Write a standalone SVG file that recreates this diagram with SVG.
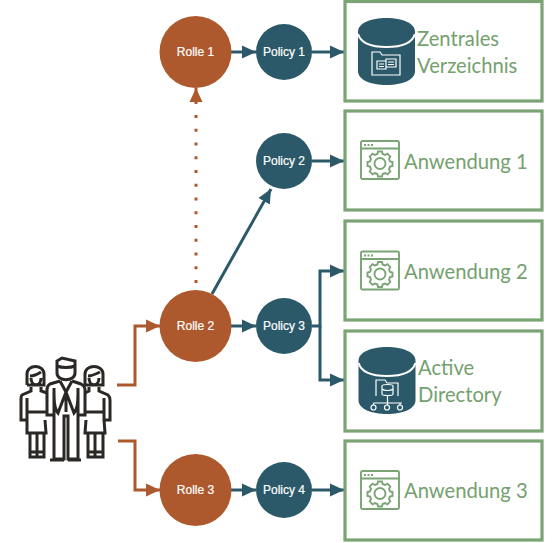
<svg xmlns="http://www.w3.org/2000/svg" width="556" height="543" viewBox="0 0 556 543">
<style>
.role{fill:#AE592D}.pol{fill:#2B5969}
.cl{font:12px "Liberation Sans",Arial,sans-serif;fill:#fff;text-anchor:middle;stroke:#fff;stroke-width:.2}
.box{fill:#fff;stroke:#7BA475;stroke-width:3.2}
.bt{font:20.2px Lato,"Open Sans",sans-serif;fill:#74A16E}
.c{fill:none;stroke:#2B5969;stroke-width:3}
.o{fill:none;stroke:#AE592D;stroke-width:3}
.ic{fill:none;stroke:#7BA475;stroke-width:1.9}
.w{fill:none;stroke:#fff;stroke-width:1.2}
.p{fill:none;stroke:#2b2724;stroke-width:3}
</style>
<defs>
<marker id="at" markerUnits="userSpaceOnUse" markerWidth="15" markerHeight="15" refX="14" refY="7.500" orient="auto"><path d="M0,1L14,7.500L0,14z" fill="#2B5969"/></marker>
<marker id="ao" markerUnits="userSpaceOnUse" markerWidth="15" markerHeight="15" refX="14" refY="7.500" orient="auto"><path d="M0,1L14,7.500L0,14z" fill="#AE592D"/></marker>
<g id="app"><rect x="1" y="1" width="38" height="38" rx="1.500" class="ic"/><path d="M1,8.500H39" class="ic"/><path d="M4,5H6M7.500,5H9.500M11,5H13" class="ic"/><circle cx="20" cy="23.500" r="5.500" class="ic"/><path d="M18,11.500h4l.6,2.500 2.500,1 2.300-1.300 2.900,2.900-1.300,2.300 1,2.500 2.500.6v4l-2.500.6-1,2.500 1.300,2.300-2.900,2.900-2.300-1.300-2.500,1-.6,2.500h-4l-.6-2.500-2.500-1-2.300,1.300-2.900-2.900 1.300-2.300-1-2.500-2.500-.6v-4l2.500-.6 1-2.500-1.300-2.300 2.900-2.900 2.300,1.300 2.500-1z" class="ic"/></g>
<g id="cyl"><path d="M0,14C0,5 13,0 28.500,0S57,5 57,14V53C57,62 44,67 28.500,67S0,62 0,53z" fill="#2B5969"/><path d="M0,16C3,26 15,29 28.500,29S54,26 57,16" fill="none" stroke="#fff" stroke-width="2.200"/></g>
</defs>
<rect width="556" height="543" fill="#fff"/>
<g id="connectors">
<path class="o" d="M196,283V110" stroke-width="3" stroke-dasharray="3 10.750"/>
<path class="o" d="M196,104V88" marker-end="url(#ao)"/>
<path class="c" d="M231,52H256" marker-end="url(#at)"/>
<path class="c" d="M312,52H344" marker-end="url(#at)"/>
<path class="c" d="M312,161H344" marker-end="url(#at)"/>
<path class="c" d="M212,294L271,189" marker-end="url(#at)"/>
<path class="c" d="M231,326H256" marker-end="url(#at)"/>
<path class="c" d="M312,326H320V271H344" marker-end="url(#at)"/>
<path class="c" d="M320,326V380H344" marker-end="url(#at)"/>
<path class="c" d="M312,490H344" marker-end="url(#at)"/>
<path class="c" d="M231,490H256" marker-end="url(#at)"/>
<path class="o" d="M117,385H135V326H160" marker-end="url(#ao)"/>
<path class="o" d="M118,441H135V490H160" marker-end="url(#ao)"/>
</g>
<g id="users">
<path class="p" d="M27,385V374C27,364 44,364 44,374V385H27M30,376C34,376 38,374 41,372M31,378C31,387 41,387 41,378M31,387V391L22,395C21,396 21,398 21,400V420H27V398M41,387V391L47,393M27,412H47M27,420L27,433H46L45,420M30,433V457H37V433M37,457H44V433M30,452H44"/>
<path class="p" d="M57,373V361L62,358L75,361V373C75,382 57,382 57,373zM57,366C62,368 70,368 75,366M60,381L50,384C48,385 47,387 47,390V415H54V392M72,381L81,384C83,385 85,387 85,390V415H78V392M60,381L66,392L72,381M66,392V412M54,388C54,400 54,408 58,413L66,392M78,388C78,400 78,408 74,413L66,392M54,415V459H64V416H68V459H78V415M50,460H64M68,460H81"/>
<path class="p" d="M85,385V374C85,364 103,364 103,374V385H85M88,376C92,376 96,374 100,372M89,378C89,387 99,387 99,378M89,387V391L85,393M99,387V391L108,395C109,396 110,398 110,400V420H104V398M84,412H104M104,420L105,433H85L86,420M88,433V457H95V433M95,457H103V433M88,452H103"/>
</g>
<g id="rolle-1"><circle class="role" cx="195.500" cy="52" r="36"/><text class="cl" x="195.500" y="56">Rolle 1</text></g>
<g id="rolle-2"><circle class="role" cx="195.500" cy="326" r="36"/><text class="cl" x="195.500" y="330">Rolle 2</text></g>
<g id="rolle-3"><circle class="role" cx="195.500" cy="490" r="36"/><text class="cl" x="195.500" y="494">Rolle 3</text></g>
<g id="policy-1"><circle class="pol" cx="284" cy="52" r="28"/><text class="cl" x="284" y="56">Policy 1</text></g>
<g id="policy-2"><circle class="pol" cx="284" cy="161" r="28"/><text class="cl" x="284" y="165">Policy 2</text></g>
<g id="policy-3"><circle class="pol" cx="284" cy="326" r="28"/><text class="cl" x="284" y="330">Policy 3</text></g>
<g id="policy-4"><circle class="pol" cx="284" cy="490" r="28"/><text class="cl" x="284" y="494">Policy 4</text></g>
<g id="zentrales"><rect class="box" x="345" y="1.500" width="197" height="99.500"/><use href="#cyl" x="358" y="18"/><path class="w" d="M372,62V52H380L382,55H400V75H372zM377,61H386V69H377zM386,59H396V67H386zM379,64H384M379,66.500H384M388,62H394M388,64.500H394" stroke="#cfe0e4"/><text class="bt" x="417" y="46">Zentrales</text><text class="bt" x="417" y="73">Verzeichnis</text></g>
<g id="anwendung-1"><rect class="box" x="345" y="111" width="197" height="99"/><use href="#app" x="360" y="140"/><text class="bt" x="404" y="169">Anwendung 1</text></g>
<g id="anwendung-2"><rect class="box" x="345" y="221" width="197" height="99"/><use href="#app" x="360" y="250.500"/><text class="bt" x="404" y="279">Anwendung 2</text></g>
<g id="active-directory"><rect class="box" x="345" y="331" width="197" height="100"/><use href="#cyl" x="358.500" y="347"/><path class="w" d="M376,396V380H385L387,383H398V396M382,386C382,384 393,384 393,386V394C393,396 382,396 382,394zM382,389C384,391 391,391 393,389M387.500,396V403M373.500,403H402M373.500,403V405M387.500,403V405M400,403V405"/><g class="w"><circle cx="373.500" cy="407.500" r="2.500"/><circle cx="387" cy="407.500" r="2.500"/><circle cx="400" cy="407.500" r="2.500"/></g><text class="bt" x="418" y="375">Active</text><text class="bt" x="418" y="402">Directory</text></g>
<g id="anwendung-3"><rect class="box" x="345" y="441" width="197" height="99"/><use href="#app" x="360" y="470"/><text class="bt" x="404" y="498">Anwendung 3</text></g>
</svg>
